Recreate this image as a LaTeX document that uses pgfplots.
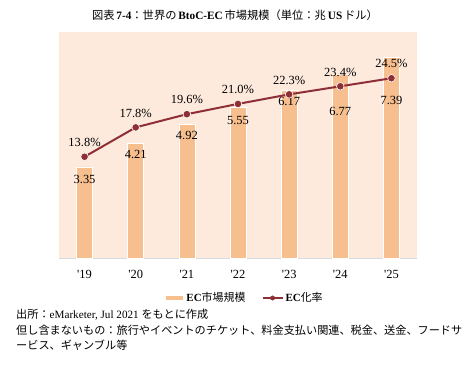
\documentclass[border=0pt]{standalone}
\usepackage{fontspec}
\setmainfont{Liberation Serif}
\newfontfamily\jp{Noto Sans CJK JP}
\usepackage{pgfplots}
\pgfplotsset{compat=1.18}
\definecolor{bg}{HTML}{FDEADC}
\definecolor{barc}{HTML}{F7BE8E}
\definecolor{linec}{HTML}{8E2F36}
\definecolor{axc}{HTML}{D8DCE2}
\newcommand{\fs}{\fontsize{11}{13}\selectfont}
\newcommand{\fl}{\fontsize{12.5}{14}\selectfont}
\begin{document}
\begin{tikzpicture}[x=1bp,y=1bp]
\useasboundingbox (0,0) rectangle (474,376);
\node[font=\fontsize{11.3}{13}\selectfont, inner sep=0] at (235,361) {{\jp 図表}\,\textbf{7-4}{\jp ：世界の}\,\textbf{BtoC-EC}\,{\jp 市場規模（単位：兆}\,\textbf{US}\,{\jp ドル）}};
\begin{axis}[at={(59bp,118bp)}, anchor=south west, scale only axis,
  width=358bp, height=226bp,
  xmin=-0.5, xmax=6.5, ymin=0, ymax=8.31,
  axis x line*=bottom, axis y line=none, ytick=\empty,
  x axis line style={draw=axc, line width=1bp, -},
  xtick={0,...,6},
  xticklabels={\textquotesingle19,\textquotesingle20,\textquotesingle21,\textquotesingle22,\textquotesingle23,\textquotesingle24,\textquotesingle25},
  major tick length=0pt,
  axis background/.style={fill=bg},
  tick label style={font=\fl},
  xticklabel style={yshift=-8.5bp},
  /pgf/number format/assume math mode=true,
  clip=false]
\addplot[ybar, bar width=16bp, fill=barc, draw=white, line width=0.5bp]
  coordinates {(0,3.35)(1,4.21)(2,4.92)(3,5.55)(4,6.17)(5,6.77)(6,7.39)};
\addplot[draw=none, mark=none, nodes near coords, point meta=explicit symbolic,
  every node near coord/.append style={anchor=center, font=\fl, text=black}]
  coordinates {(0,2.89)[3.35] (1,3.79)[4.21] (2,4.49)[4.92] (3,5.07)[5.55] (4,5.75)[6.17] (5,5.40)[6.77] (6,5.78)[7.39]};
\end{axis}
\begin{axis}[at={(59bp,118bp)}, anchor=south west, scale only axis,
  width=358bp, height=226bp,
  xmin=-0.5, xmax=6.5, ymin=0, ymax=30.8,
  hide axis, clip=false,
  legend style={draw=none, fill=none, at={(0.517,-0.177)}, anchor=center, font=\fs,
    legend columns=2, /tikz/every even column/.append style={column sep=14bp}},
  ]
\addlegendimage{legend image code/.code={\draw[barc, line width=4bp] (0bp,0bp) -- (17bp,0bp);}}
\addlegendentry{\textbf{EC}{\jp 市場規模}}
\addlegendimage{legend image code/.code={\draw[linec, line width=2bp] (0bp,0bp) -- (20bp,0bp); \fill[linec] (10bp,0bp) circle (2.2bp);}}
\addlegendentry{\textbf{EC}{\jp 化率}}
\addplot[linec, line width=2bp, mark=*, mark size=3.8bp,
  mark options={fill=linec, draw=white, line width=0.6bp},
  nodes near coords, point meta=explicit symbolic,
  every node near coord/.append style={anchor=south, yshift=6.5bp, font=\fl, text=black},
  forget plot]
  coordinates {(0,13.8)[13.8\%] (1,17.8)[17.8\%] (2,19.6)[19.6\%] (3,21.0)[21.0\%] (4,22.3)[22.3\%] (5,23.4)[23.4\%] (6,24.5)[24.5\%]};
\end{axis}
\node[anchor=west, inner sep=0, font=\fontsize{11.2}{13}\selectfont] at (16,61) {{\jp 出所：}eMarketer, Jul 2021 {\jp をもとに作成}};
\node[anchor=west, inner sep=0, font=\fontsize{11.2}{13}\selectfont] at (16,46) {\jp 但し含まないもの：旅行やイベントのチケット、料金支払い関連、税金、送金、フードサ};
\node[anchor=west, inner sep=0, font=\fontsize{11.2}{13}\selectfont] at (16,31) {\jp ービス、ギャンブル等};
\end{tikzpicture}
\end{document}
